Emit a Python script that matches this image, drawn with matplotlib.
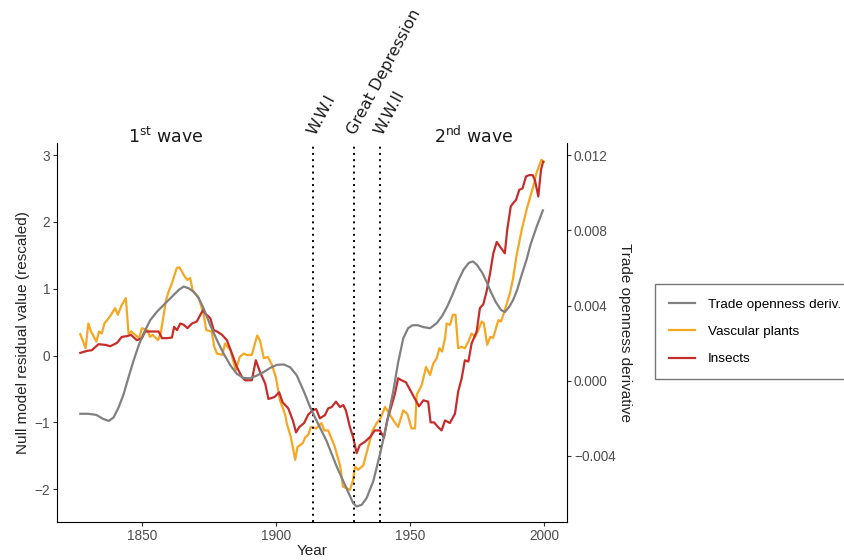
import matplotlib
matplotlib.use("Agg")
import matplotlib.pyplot as plt

# vascular plants (orange), null model residual, rescaled
plant_years = [1827, 1829, 1830, 1831, 1833, 1834, 1835, 1836, 1838, 1840, 1841, 1842.5, 1844,
               1845, 1846, 1849, 1850, 1852, 1853, 1854, 1856, 1857, 1859, 1860, 1861, 1863,
               1864, 1866, 1867, 1868, 1869, 1871, 1873, 1874, 1876, 1877, 1878, 1880, 1881,
               1883, 1885, 1886.5, 1888, 1889, 1891, 1893, 1894, 1895.5, 1897, 1898.5, 1900,
               1901.5, 1903.5, 1904, 1905.5, 1907.2, 1908, 1910, 1911, 1912, 1913, 1915, 1917,
               1918, 1919.5, 1922, 1924, 1925, 1927.6, 1928.8, 1929.5, 1930.7, 1932.6, 1934.4,
               1936.1, 1937.6, 1939, 1940.7, 1942, 1944, 1945.6, 1947.5, 1949, 1950.6, 1951.9,
               1952.5, 1954.4, 1956, 1957.5, 1958.7, 1960, 1961, 1962, 1963.1, 1963.7, 1965,
               1966, 1967, 1968, 1969.3, 1970.5, 1971.8, 1973, 1974.3, 1975.5, 1976.8, 1977.6,
               1978.8, 1980, 1981, 1983, 1984, 1985.4, 1987.3, 1988.5, 1989.8, 1991.7, 1993.5,
               1996, 1997.2, 1999, 2000]
plant_vals = [0.32, 0.11, 0.48, 0.36, 0.21, 0.36, 0.33, 0.48, 0.58, 0.71, 0.61, 0.76, 0.86,
              0.33, 0.36, 0.26, 0.41, 0.38, 0.28, 0.31, 0.23, 0.33, 0.83, 0.96, 1.06, 1.31,
              1.32, 1.18, 1.13, 1.16, 0.96, 0.88, 0.63, 0.38, 0.36, 0.13, 0.03, 0.01, 0.18,
              0.08, -0.22, -0.02, 0.03, 0.01, 0.01, 0.30, 0.23, -0.04, -0.02, -0.14, -0.33,
              -0.67, -0.89, -1.01, -1.21, -1.56, -1.37, -1.31, -1.22, -1.19, -1.07, -1.09, -1.01,
              -1.12, -1.12, -1.37, -1.66, -1.96, -2.01, -1.86, -1.66, -1.71, -1.64, -1.37,
              -1.12, -1.01, -0.94, -0.77, -0.85, -0.98, -1.07, -0.82, -0.87, -1.09, -1.09,
              -0.59, -0.44, -0.17, -0.29, -0.12, -0.04, 0.11, 0.06, 0.26, 0.48, 0.46,
              0.61, 0.61, 0.11, 0.13, 0.11, 0.21, 0.33, 0.28, 0.38, 0.51, 0.48,
              0.16, 0.28, 0.26, 0.53, 0.51, 0.68, 0.93, 1.16, 1.50, 1.88, 2.18,
              2.53, 2.73, 2.93, 2.90]

# insects (red)
insect_years = [1827, 1829.5, 1831.3, 1833.8, 1836.3, 1838.2, 1840.7, 1842.5, 1844.4, 1845.9,
                1848.1, 1850, 1851.2, 1853.1, 1856.2, 1857.5, 1859.3, 1861.2, 1862, 1863.1,
                1864.3, 1865.6, 1867, 1868.7, 1870.5, 1871.8, 1872.8, 1873.6, 1875.5, 1876.8,
                1878, 1879.9, 1881.7, 1883.6, 1885.4, 1887.3, 1888.5, 1891, 1892.5, 1894, 1896,
                1897.2, 1899.5, 1901.2, 1902.5, 1904.6, 1906.3, 1907.5, 1908.7, 1910.5, 1912.1,
                1913.7, 1915, 1916.4, 1918.3, 1919.5, 1920.8, 1922.4, 1923.9, 1925.1, 1926.1,
                1927.6, 1928.8, 1930.1, 1931.3, 1933.2, 1935.1, 1936.9, 1938.8, 1940.3, 1941.5,
                1943.2, 1944.4, 1945.6, 1946.9, 1948.5, 1950.3, 1951.6, 1953.4, 1955, 1956.8,
                1957.7, 1959, 1960.5, 1961.8, 1963.1, 1964.9, 1966.8, 1968, 1969.3, 1970.5,
                1971.8, 1973, 1974.9, 1976.1, 1977.4, 1978.6, 1979.9, 1981.1, 1982.4, 1983.6,
                1985.4, 1986.3, 1987.6, 1988.5, 1989.6, 1990.8, 1992, 1993.3, 1994.5, 1995.8,
                1996.6, 1997.9, 1998.9, 1999.7]
insect_vals = [0.04, 0.07, 0.08, 0.17, 0.16, 0.14, 0.19, 0.28, 0.29, 0.31,
               0.23, 0.26, 0.36, 0.36, 0.36, 0.26, 0.26, 0.27, 0.43, 0.38,
               0.48, 0.46, 0.41, 0.48, 0.51, 0.61, 0.68, 0.63, 0.56, 0.38,
               0.36, 0.31, 0.23, 0.03, -0.17, -0.32, -0.37, -0.37, -0.07, -0.24, -0.42,
               -0.65, -0.62, -0.55, -0.70, -0.79, -0.97, -1.15, -1.07, -1.01, -0.88,
               -0.82, -0.80, -0.94, -0.89, -0.79, -0.77, -0.69, -0.77, -0.74, -0.82,
               -1.07, -1.22, -1.46, -1.34, -1.29, -1.22, -1.12, -1.12, -1.23, -0.97,
               -0.74, -0.57, -0.34, -0.37, -0.40, -0.53, -0.63, -0.76, -0.67, -0.69,
               -1.00, -1.00, -1.07, -1.12, -0.97, -1.01, -0.87, -0.54, -0.34, -0.07,
               -0.09, 0.18, 0.36, 0.71, 0.77, 0.96, 1.23, 1.53, 1.70, 1.63,
               1.53, 1.88, 2.23, 2.28, 2.33, 2.48, 2.50, 2.68, 2.70, 2.70,
               2.63, 2.38, 2.78, 2.90]

# trade openness derivative (grey, right axis)
trade_years = [1827, 1830, 1833, 1835.5, 1837.6, 1839.4, 1841.3, 1843.2, 1845, 1846.9, 1848.8,
               1850.6, 1853.1, 1855.6, 1858.1, 1861.2, 1863.7, 1865.6, 1867.4, 1869.3, 1871.2,
               1873, 1875.5, 1878, 1880.5, 1883, 1885.4, 1887.9, 1890.4, 1892.9, 1895.4,
               1897.9, 1900.4, 1902.9, 1905.3, 1907.8, 1910.3, 1912.8, 1915.2, 1918.9, 1922.6,
               1926.3, 1928.8, 1930.1, 1932, 1933.8, 1936.3, 1938.8, 1941.3, 1943.8, 1945.6,
               1947.5, 1949.3, 1951, 1953, 1955, 1957.5, 1960, 1962, 1964, 1966, 1968, 1970,
               1972, 1973.5, 1975, 1977, 1978.6, 1980, 1982, 1984, 1985.4, 1987, 1988.5, 1990,
               1991.7, 1993.5, 1995, 1997.3, 1999.6]
trade_vals = [-0.00177, -0.00177, -0.00183, -0.00204, -0.00215, -0.00197, -0.00143, -0.00071,
              0.00018, 0.00107, 0.00188, 0.00251, 0.00322, 0.00367, 0.00403, 0.00447, 0.00483,
              0.00501, 0.00492, 0.00474, 0.00439, 0.00385, 0.00295, 0.00215, 0.00143, 0.00081,
              0.00036, 0.00014, 0.00012, 0.00027, 0.00045, 0.00068, 0.00084, 0.00086, 0.00071,
              0.00027, -0.00054, -0.00143, -0.00215, -0.00322, -0.00456, -0.00573, -0.00653,
              -0.00671, -0.00662, -0.00627, -0.00537, -0.00394, -0.00232, -0.00054, 0.00097,
              0.00225, 0.00279, 0.00295, 0.00295, 0.00285, 0.00279, 0.00306, 0.00344, 0.00397,
              0.00462, 0.00532, 0.00591, 0.00628, 0.00635, 0.00617, 0.00574, 0.00526, 0.00478,
              0.00419, 0.00376, 0.00365, 0.00392, 0.00430, 0.00483, 0.00564, 0.00644, 0.00725,
              0.00821, 0.00907]

events = [1914, 1929, 1939]
event_labels = ["W.W.I", "Great Depression", "W.W.II"]
left_ticks = [-2, -1, 0, 1, 2, 3]
right_ticks = [-0.004, 0.0, 0.004, 0.008, 0.012]
x_ticks = [1850, 1900, 1950, 2000]

GREY = "#808080"
ORANGE = "#F5A722"
RED = "#C62D2A"
TICK_COL = "#4d4d4d"

plt.rcParams["font.family"] = ["Liberation Sans", "DejaVu Sans"]

fig = plt.figure(figsize=(8.44, 5.6), dpi=100)
ax = fig.add_axes([0.0675, 0.0679, 0.6043, 0.6767])
ax2 = ax.twinx()

ax.set_xlim(1818.3, 2008.6)
ax.set_ylim(-2.49, 3.18)
ax2.set_ylim(-0.007536, 0.01266)

l1, = ax2.plot(trade_years, trade_vals, color=GREY, lw=1.6, label="Trade openness deriv.")
l2, = ax.plot(plant_years, plant_vals, color=ORANGE, lw=1.6, label="Vascular plants")
l3, = ax.plot(insect_years, insect_vals, color=RED, lw=1.6, label="Insects")

for yr in events:
    ax.axvline(yr, color="black", lw=1.4, linestyle=(0, (1, 2.2)))

for yr, lab in zip(events, event_labels):
    ax.annotate(lab, xy=(yr, 1.0), xycoords=("data", "axes fraction"),
                xytext=(3, 4), textcoords="offset points", rotation=62,
                rotation_mode="anchor", ha="left", va="bottom",
                fontsize=11.5, family="DejaVu Sans", color="#1a1a1a")

ax.text(1859, 1.0, r"1$^{\mathrm{st}}$ wave", transform=ax.get_xaxis_transform(),
        ha="center", va="baseline", fontsize=12.5, family="DejaVu Sans", color="#1a1a1a")
ax.text(1974, 1.0, r"2$^{\mathrm{nd}}$ wave", transform=ax.get_xaxis_transform(),
        ha="center", va="baseline", fontsize=12.5, family="DejaVu Sans", color="#1a1a1a")

ax.set_xticks(x_ticks)
ax.set_yticks(left_ticks)
ax.set_yticklabels(["\u22122", "\u22121", "0", "1", "2", "3"])
ax2.set_yticks(right_ticks)
ax2.set_yticklabels(["\u22120.004", "0.000", "0.004", "0.008", "0.012"])

for a in (ax, ax2):
    a.spines["top"].set_visible(False)
    a.tick_params(colors="#333333", labelcolor=TICK_COL, labelsize=9.8,
                  length=3, width=0.8, pad=2)
ax.spines["right"].set_visible(False)
ax2.spines["left"].set_visible(False)
ax2.spines["bottom"].set_visible(False)

ax.set_xlabel("Year", fontsize=11, color="#222222", labelpad=1)
ax.set_ylabel("Null model residual value (rescaled)", fontsize=11, color="#222222", labelpad=3)
ax2.set_ylabel("Trade openness derivative", fontsize=11, color="#222222",
               rotation=-90, labelpad=12)

leg = fig.legend(handles=[l1, l2, l3], loc="center left", bbox_to_anchor=(0.776, 0.4075),
                 frameon=True, fancybox=False, fontsize=9.7, handlelength=1.9,
                 labelspacing=1.1, borderpad=1.05, borderaxespad=0.0, handletextpad=1.0)
leg.get_frame().set_edgecolor("#555555")
leg.get_frame().set_linewidth(1.0)

fig.savefig("out.png", dpi=100)
